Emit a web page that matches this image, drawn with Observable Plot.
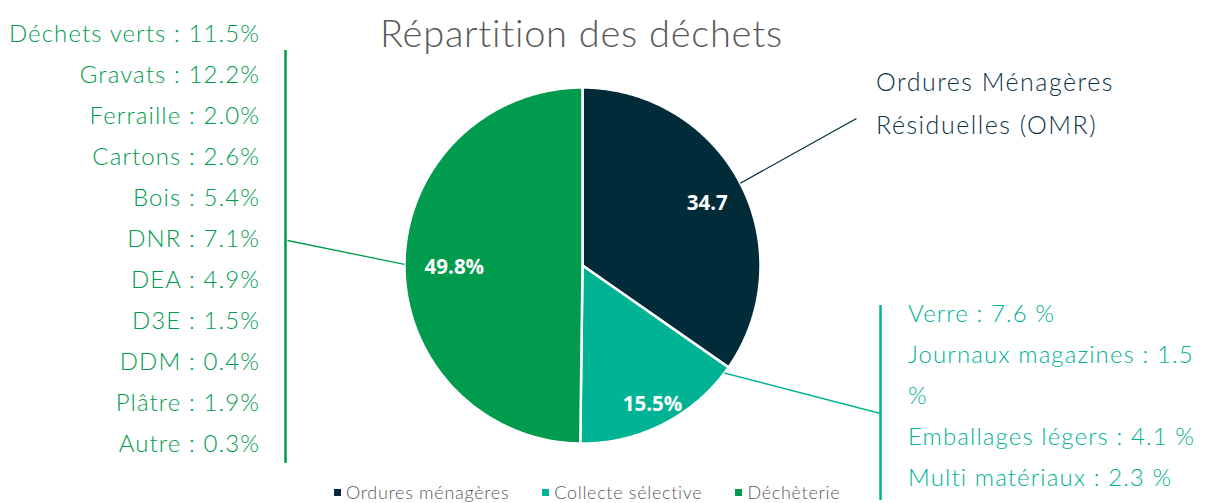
<!DOCTYPE html>
<html><head><meta charset="utf-8">
<script src="https://cdn.jsdelivr.net/npm/d3@7"></script>
<script src="https://cdn.jsdelivr.net/npm/@observablehq/plot@0.6"></script>
<style>
html,body{margin:0;padding:0;background:#fff}
body{width:1225px;height:503px;position:relative;overflow:hidden;font-family:Lato,"Open Sans",sans-serif;font-weight:300}
#chart{position:absolute;left:0;top:0}
.title{position:absolute;left:380px;top:9px;font-size:38px;line-height:46px;letter-spacing:0.75px;color:#595959;white-space:nowrap}
.list{position:absolute;font-size:24px;line-height:41px;letter-spacing:1.1px;white-space:nowrap}
#left{right:965px;top:12px;text-align:right;color:#009b4d}
#right{left:908px;top:292px;width:300px;color:#00b294;white-space:normal}
#omr{left:876px;top:60px;font-size:25px;line-height:43px;letter-spacing:1.5px;color:#0d3346;width:280px;white-space:normal}
#legend{position:absolute;left:334px;top:481px;display:flex;gap:33px;font-size:18px;line-height:22px;letter-spacing:0.7px;color:#595959}
#legend span.sw{display:inline-block;width:7px;height:7px;margin-right:5px;vertical-align:middle;position:relative;top:-2px}
</style>
</head><body>
<div id="chart"></div>
<div class="title" id="title"></div>
<div class="list" id="left"></div>
<div class="list" id="right"></div>
<div class="list" id="omr"></div>
<div id="legend"></div>
<script>
// ---- data ----
const title = "Répartition des déchets";
const categories = ["Ordures ménagères", "Collecte sélective", "Déchèterie"];
const values = [34.7, 15.5, 49.8];
const sliceLabels = ["34.7", "15.5%", "49.8%"];
const colors = ["#022b3a", "#00b394", "#009b4d"];
const omrLabel = "Ordures Ménagères Résiduelles (OMR)";
const collecteItems = ["Verre", "Journaux magazines", "Emballages légers", "Multi matériaux"];
const collecteValues = [7.6, 1.5, 4.1, 2.3];
const dechetterieItems = ["Déchets verts", "Gravats", "Ferraille", "Cartons", "Bois", "DNR", "DEA", "D3E", "DDM", "Plâtre", "Autre"];
const dechetterieValues = [11.5, 12.2, 2.0, 2.6, 5.4, 7.1, 4.9, 1.5, 0.4, 1.9, 0.3];

// ---- layout (pixels) ----
const W = 1225, H = 503, CX = 582, CY = 265, R = 178;
const ux = px => (px - CX) / R, uy = py => (CY - py) / R;
const labelRadius = [0.79, 0.86, 0.72];
const leaderAt = [0.5, 0.04, 0.5];             // fraction along each slice
const leaderEnd = [[856, 118], [880, 413], [287, 240]];
const brackets = [{x: 285, y1: 50, y2: 463, c: 2}, {x: 880, y1: 305, y2: 500, c: 1}];

// ---- build ----
const arcs = d3.pie().sort(null).value(d => d)(values);
const pt = (a, r) => ({x: r * Math.sin(a), y: r * Math.cos(a)});
const polys = arcs.map((a, i) => {
  const n = Math.max(2, Math.ceil((a.endAngle - a.startAngle) / (Math.PI / 360)));
  const pts = [{x: 0, y: 0}];
  for (let k = 0; k <= n; k++) pts.push(pt(a.startAngle + (a.endAngle - a.startAngle) * k / n, 1));
  pts.push({x: 0, y: 0});
  return pts;
});
const labels = arcs.map((a, i) => ({...pt((a.startAngle + a.endAngle) / 2, labelRadius[i]), text: sliceLabels[i]}));
const leaders = arcs.map((a, i) => {
  const p = pt(a.startAngle + (a.endAngle - a.startAngle) * leaderAt[i], 1);
  return {x1: p.x, y1: p.y, x2: ux(leaderEnd[i][0]), y2: uy(leaderEnd[i][1]), c: colors[i]};
});

const plot = Plot.plot({
  width: W, height: H,
  margin: 0,
  x: {domain: [ux(0), ux(W)], range: [0, W], axis: null},
  y: {domain: [uy(H), uy(0)], range: [H, 0], axis: null},
  marks: [
    ...polys.map((p, i) => Plot.line(p, {x: "x", y: "y", fill: colors[i], stroke: "white", strokeWidth: 2.5, strokeLinejoin: "miter"})),
    Plot.link(leaders, {x1: "x1", y1: "y1", x2: "x2", y2: "y2", stroke: "c", strokeWidth: 1.3}),
    ...brackets.map(b => Plot.ruleX([ux(b.x)], {y1: uy(b.y1), y2: uy(b.y2), stroke: colors[b.c], strokeWidth: 2.5})),
    Plot.text(labels, {x: "x", y: "y", dy: 3, text: "text", fill: "white", fontSize: 20.5, fontWeight: "bold", fontFamily: "Open Sans"})
  ]
});
document.getElementById("chart").appendChild(plot);

document.getElementById("title").textContent = title;
document.getElementById("left").innerHTML = dechetterieItems.map((n, i) => `${n} : ${dechetterieValues[i].toFixed(1)}%`).join("<br>");
document.getElementById("right").innerHTML = collecteItems.map((n, i) => `<div>${n} : ${collecteValues[i].toFixed(1)} %</div>`).join("");
document.getElementById("omr").textContent = omrLabel;
document.getElementById("legend").innerHTML = categories.map((c, i) => `<div><span class="sw" style="background:${colors[i]}"></span>${c}</div>`).join("");
</script>
</body></html>
